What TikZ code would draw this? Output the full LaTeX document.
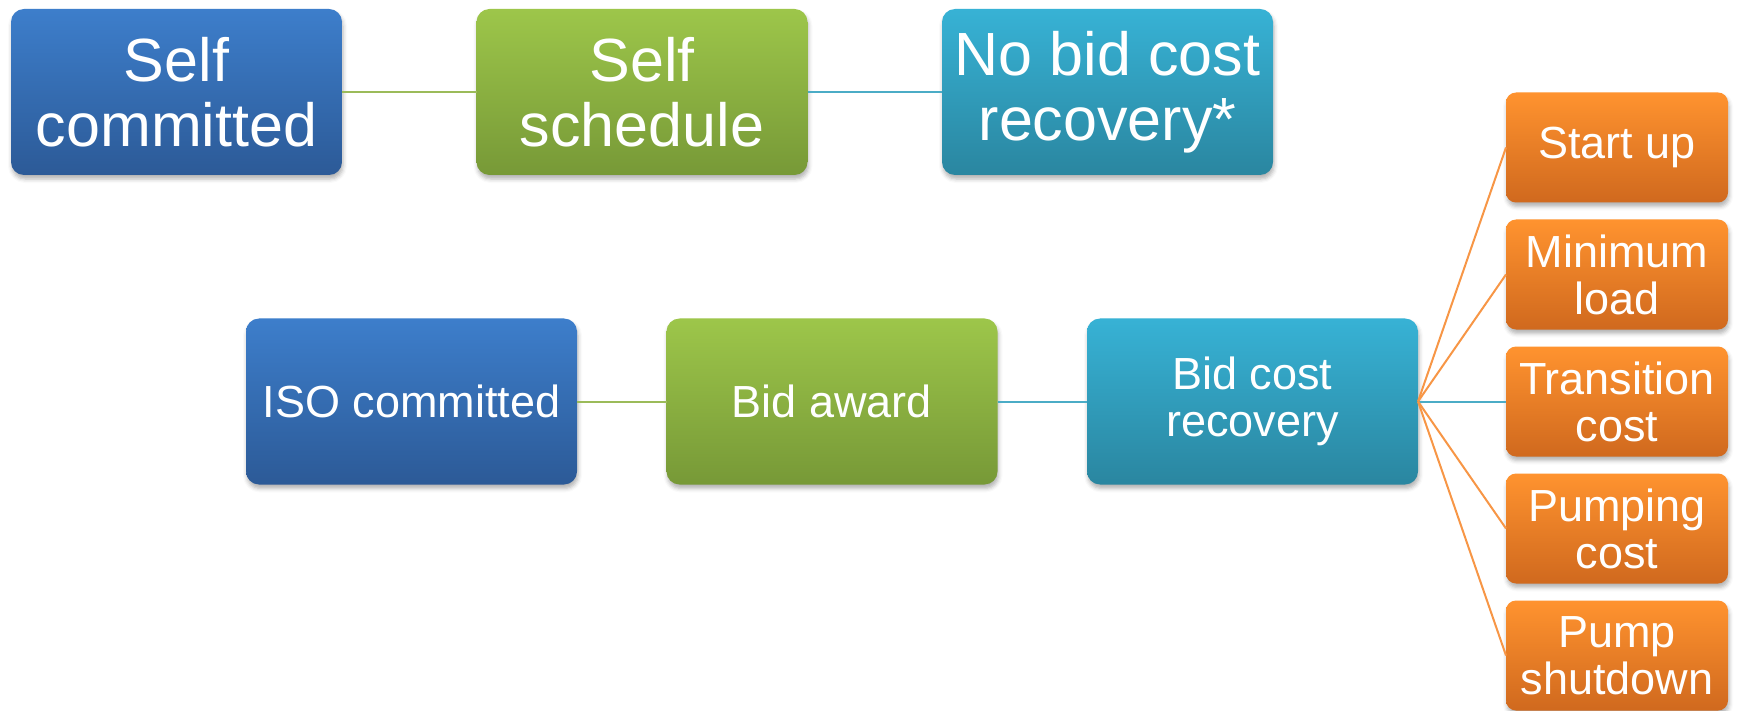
\documentclass[tikz,border=0pt]{standalone}
\usepackage{fontspec}
\setmainfont{Liberation Sans}
\usetikzlibrary{positioning,shadows.blur}
\definecolor{blueTop}{HTML}{3D7ECB}
\definecolor{blueBot}{HTML}{2C5A97}
\definecolor{greenTop}{HTML}{9DC64A}
\definecolor{greenBot}{HTML}{779937}
\definecolor{tealTop}{HTML}{37B2D5}
\definecolor{tealBot}{HTML}{2A86A0}
\definecolor{orangeTop}{HTML}{FF932F}
\definecolor{orangeBot}{HTML}{D0691E}
\definecolor{greenLine}{HTML}{9BBB59}
\definecolor{tealLine}{HTML}{4BACC6}
\definecolor{orangeLine}{HTML}{F79646}

\begin{document}
\begin{tikzpicture}[
    node distance=67.25pt,
    line width=1pt,
    level box/.style={rectangle,rounded corners=6.5pt,minimum width=165.5pt,minimum height=83pt,
      inner sep=0pt,outer sep=0pt,text=white,align=center,
      blur shadow={shadow xshift=0.5pt,shadow yshift=-2pt,shadow blur radius=2pt,shadow opacity=30}},
    big text/.style={font=\fontsize{30.5}{32.5}\selectfont},
    small text/.style={font=\fontsize{22.5}{23.5}\selectfont},
    blue node/.style={level box,top color=blueTop,bottom color=blueBot},
    green node/.style={level box,top color=greenTop,bottom color=greenBot},
    teal node/.style={level box,top color=tealTop,bottom color=tealBot},
    cost node/.style={level box,rounded corners=5pt,minimum width=111pt,minimum height=55pt,
      small text,top color=orangeTop,bottom color=orangeBot}]

  \useasboundingbox (0,0) rectangle (870pt,-355.5pt);

  % self committed row
  \node[blue node,big text] (SelfCommitted) at (88.25pt,-46pt) {Self\\committed};
  \node[green node,big text] (SelfSchedule) [right=of SelfCommitted] {Self\\schedule};
  \node[teal node,big text] (NoRecovery) [right=of SelfSchedule] {No bid cost\\recovery*};

  % ISO committed row
  \node[blue node,small text] (IsoCommitted) at (205.75pt,-200.75pt) {ISO committed};
  \node[green node,small text] (BidAward) [right=44.75pt of IsoCommitted] {Bid award};
  \node[teal node,small text] (Recovery) [right=44.75pt of BidAward] {Bid cost\\recovery};

  % cost components
  \node[cost node] (Transition) [right=44pt of Recovery] {Transition\\cost};
  \node[cost node] (MinLoad) [above=8.5pt of Transition] {Minimum\\load};
  \node[cost node] (StartUp) [above=8.5pt of MinLoad] {Start up};
  \node[cost node] (Pumping) [below=8.5pt of Transition] {Pumping\\cost};
  \node[cost node] (Shutdown) [below=8.5pt of Pumping] {Pump\\shutdown};

  \draw[greenLine] (SelfCommitted) -- (SelfSchedule);
  \draw[tealLine] (SelfSchedule) -- (NoRecovery);
  \draw[greenLine] (IsoCommitted) -- (BidAward);
  \draw[tealLine] (BidAward) -- (Recovery);
  \draw[tealLine] (Recovery.east) -- (Transition.west);
  \foreach \cost in {StartUp,MinLoad,Pumping,Shutdown}
    \draw[orangeLine] (Recovery.east) -- (\cost.west);
\end{tikzpicture}
\end{document}
